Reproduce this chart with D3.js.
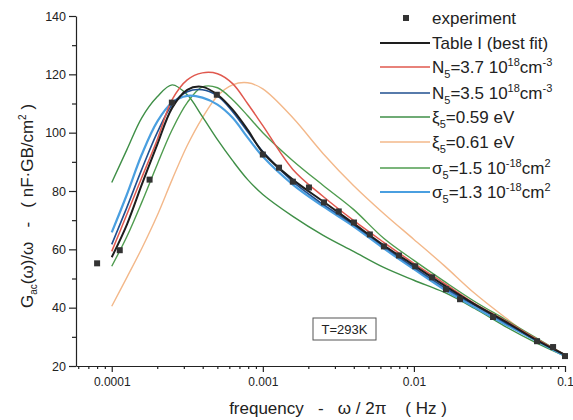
<!DOCTYPE html>
<html><head><meta charset="utf-8">
<script src="https://cdn.jsdelivr.net/npm/d3@7"></script>
<style>
html,body{margin:0;padding:0;background:#fff;}
svg{display:block;font-family:"Liberation Sans",Arial,sans-serif;}
</style></head>
<body><svg id="c" width="573" height="420"></svg>
<script>
// ---- data ----
const freq = [1e-4,1.26e-4,1.58e-4,2e-4,2.51e-4,3.16e-4,3.98e-4,5.01e-4,6.31e-4,7.94e-4,1e-3,1.58e-3,2.51e-3,3.98e-3,6.31e-3,1e-2,1.58e-2,2.51e-2,3.98e-2,6.31e-2,0.1];
const bestFit = [57.3,68.5,82.2,95.9,108.5,114.7,115.7,113.0,107.9,101.0,93.2,83.9,76.4,68.9,61.4,54.5,47.7,41.2,35.4,29.2,23.8];
const n5_37   = [59.3,72.0,84.6,97.6,111.3,118.1,120.5,120.2,116.8,109.9,102.4,87.4,78.1,69.9,62.4,55.2,48.4,41.5,35.7,29.6,23.8];
const n5_35   = [61.7,74.4,87.4,100.0,109.6,114.0,114.7,112.6,107.2,100.3,93.5,83.2,75.4,68.5,61.0,53.8,47.0,40.9,35.0,29.2,23.8];
const xi5_059 = [82.9,94.2,105.1,112.3,116.4,113.0,105.5,97.6,90.4,83.9,78.8,71.3,64.8,59.3,53.8,49.4,45.3,39.8,33.7,28.2,23.4];
const xi5_061 = [40.5,50.4,60.3,71.6,83.9,95.6,105.1,112.6,116.4,117.1,115.0,105.1,92.8,81.9,72.3,63.4,54.5,45.0,36.8,29.2,23.4];
const sg5_15  = [54.2,64.4,76.1,89.1,101.0,110.3,115.7,115.4,111.3,105.8,100.0,90.4,81.9,73.7,63.8,56.2,49.1,42.2,36.1,29.9,23.8];
const sg5_13  = [65.8,78.8,92.5,103.8,110.3,112.6,112.0,109.6,105.1,98.3,91.8,82.2,74.7,67.9,60.3,53.2,46.3,40.2,34.4,28.9,23.4];
const expFreq  = [8e-5,1.13e-4,1.78e-4,2.5e-4,4.96e-4,1e-3,1.28e-3,1.58e-3,2.02e-3,2.54e-3,3.18e-3,4.01e-3,5.11e-3,6.33e-3,7.96e-3,1.02e-2,1.32e-2,1.63e-2,2.02e-2,3.34e-2,6.53e-2,8.34e-2,0.1];
const expValue = [55.2,59.7,83.9,110.3,113.0,92.5,88.0,83.2,81.2,76.1,73.0,69.2,65.1,61.0,57.9,54.2,50.4,46.3,42.9,36.8,28.5,26.5,23.4];
const xTickValues = [1e-4,1e-3,1e-2,1e-1];
const xTickLabels = ["0.0001","0.001","0.01","0.1"];
const yTickValues = [20,40,60,80,100,120,140];
const seriesNames = ["Table I (best fit)","N5=3.7","N5=3.5","xi5=0.59","xi5=0.61","sigma5=1.5","sigma5=1.3"];

const series = [
  {key:"xi061", vals:xi5_061, color:"#f3b88a", w:1.4},
  {key:"xi059", vals:xi5_059, color:"#3f8f47", w:1.4},
  {key:"sg15",  vals:sg5_15,  color:"#4f9c4f", w:1.4},
  {key:"sg13",  vals:sg5_13,  color:"#4a9fe0", w:2.2},
  {key:"n35",   vals:n5_35,   color:"#1f4f8f", w:1.6},
  {key:"n37",   vals:n5_37,   color:"#e0584e", w:1.5},
  {key:"best",  vals:bestFit, color:"#1e1e1e", w:2.0}
];

const svg = d3.select("#c");
const x = d3.scaleLog().domain([5.8e-5,0.1]).range([76,565]);
const y = d3.scaleLinear().domain([20,140]).range([366,16]);
const ink = "#222";

// axes
const gx = svg.append("g").attr("transform","translate(0,366)")
  .call(d3.axisBottom(x).tickValues(xTickValues).tickFormat((d,i)=>xTickLabels[i]).tickSize(6).tickSizeOuter(0).tickPadding(5));
const minorX = [];
[1e-5,1e-4,1e-3,1e-2].forEach(b=>{for(let k=2;k<=9;k++){const v=b*k; if(v>=5.8e-5 && v<0.1) minorX.push(v);}});
svg.append("g").attr("transform","translate(0,366)")
  .call(d3.axisBottom(x).tickValues(minorX).tickFormat("").tickSize(3).tickSizeOuter(0))
  .select(".domain").remove();
const gy = svg.append("g").attr("transform","translate(76,0)")
  .call(d3.axisLeft(y).tickValues(yTickValues).tickSize(7).tickSizeOuter(0).tickPadding(3));
svg.append("g").attr("transform","translate(76,0)")
  .call(d3.axisLeft(y).tickValues([30,50,70,90,110,130]).tickFormat("").tickSize(4).tickSizeOuter(0))
  .select(".domain").remove();
svg.selectAll(".domain, .tick line").attr("stroke",ink).attr("stroke-width",1.2);
gx.selectAll("text").attr("font-size",12).attr("fill",ink).attr("font-family","Liberation Sans, Arial, sans-serif");
gy.selectAll("text").attr("font-size",12.5).attr("fill",ink).attr("font-family","Liberation Sans, Arial, sans-serif");

// curves
const line = d3.line().x((d,i)=>x(freq[i])).y(d=>y(d)).curve(d3.curveCatmullRom.alpha(0.5));
svg.append("g").selectAll("path").data(series).join("path")
  .attr("d",d=>line(d.vals)).attr("fill","none")
  .attr("stroke",d=>d.color).attr("stroke-width",d=>d.w).attr("stroke-linejoin","round");

// experiment squares
svg.append("g").selectAll("rect").data(expFreq).join("rect")
  .attr("x",(d)=>x(d)-3).attr("y",(d,i)=>y(expValue[i])-3)
  .attr("width",6).attr("height",6).attr("fill","#333");

// T box
svg.append("rect").attr("x",313).attr("y",318).attr("width",63).attr("height",22)
  .attr("fill","#fff").attr("stroke","#555").attr("stroke-width",1);
svg.append("text").attr("x",344.5).attr("y",334).attr("text-anchor","middle")
  .attr("font-size",13).attr("fill",ink).text("T=293K");

// axis titles
const xt = svg.append("text").attr("x",338).attr("y",414).attr("text-anchor","middle")
  .attr("font-size",17).attr("fill",ink).attr("xml:space","preserve");
xt.text("frequency   -   ω / 2π    ( Hz )");

const yt = svg.append("text").attr("transform","translate(33,206) rotate(-90)")
  .attr("text-anchor","middle").attr("font-size",17).attr("fill",ink).attr("xml:space","preserve");
yt.append("tspan").text("G");
yt.append("tspan").attr("font-size",10).attr("dy",4).text("ac");
yt.append("tspan").attr("dy",-4).text("(ω)/ω   -   ( nF·GB/cm");
yt.append("tspan").attr("font-size",10).attr("dy",-7).text("2");
yt.append("tspan").attr("dy",7).text(" )");

// legend
const legRows = [18,43,67,93,117,142,168,192];
const lg = svg.append("g");
lg.append("rect").attr("x",403).attr("y",legRows[0]-3).attr("width",6).attr("height",6).attr("fill","#333");
const legSeries = [series[6],series[5],series[4],series[1],series[0],series[2],series[3]];
legSeries.forEach((s,i)=>{
  lg.append("line").attr("x1",380).attr("x2",430).attr("y1",legRows[i+1]).attr("y2",legRows[i+1])
    .attr("stroke",s.color).attr("stroke-width",Math.min(s.w,1.8));
});
function legText(row, parts){
  const t = lg.append("text").attr("x",432).attr("y",legRows[row]+6).attr("font-size",17).attr("fill",ink);
  let cur = 0;
  parts.forEach(p=>{
    const target = p.sub ? 5 : p.sup ? -7 : 0;
    const ts = t.append("tspan").attr("dy",target-cur).text(p.t);
    if(p.sub||p.sup) ts.attr("font-size",11);
    cur = target;
  });
}
legText(0,[{t:"experiment"}]);
legText(1,[{t:"Table I (best fit)"}]);
legText(2,[{t:"N"},{t:"5",sub:1},{t:"=3.7 10"},{t:"18",sup:1},{t:"cm"},{t:"-3",sup:1}]);
legText(3,[{t:"N"},{t:"5",sub:1},{t:"=3.5 10"},{t:"18",sup:1},{t:"cm"},{t:"-3",sup:1}]);
legText(4,[{t:"ξ"},{t:"5",sub:1},{t:"=0.59 eV"}]);
legText(5,[{t:"ξ"},{t:"5",sub:1},{t:"=0.61 eV"}]);
legText(6,[{t:"σ"},{t:"5",sub:1},{t:"=1.5 10"},{t:"-18",sup:1},{t:"cm"},{t:"2",sup:1}]);
legText(7,[{t:"σ"},{t:"5",sub:1},{t:"=1.3 10"},{t:"-18",sup:1},{t:"cm"},{t:"2",sup:1}]);
</script></body></html>
